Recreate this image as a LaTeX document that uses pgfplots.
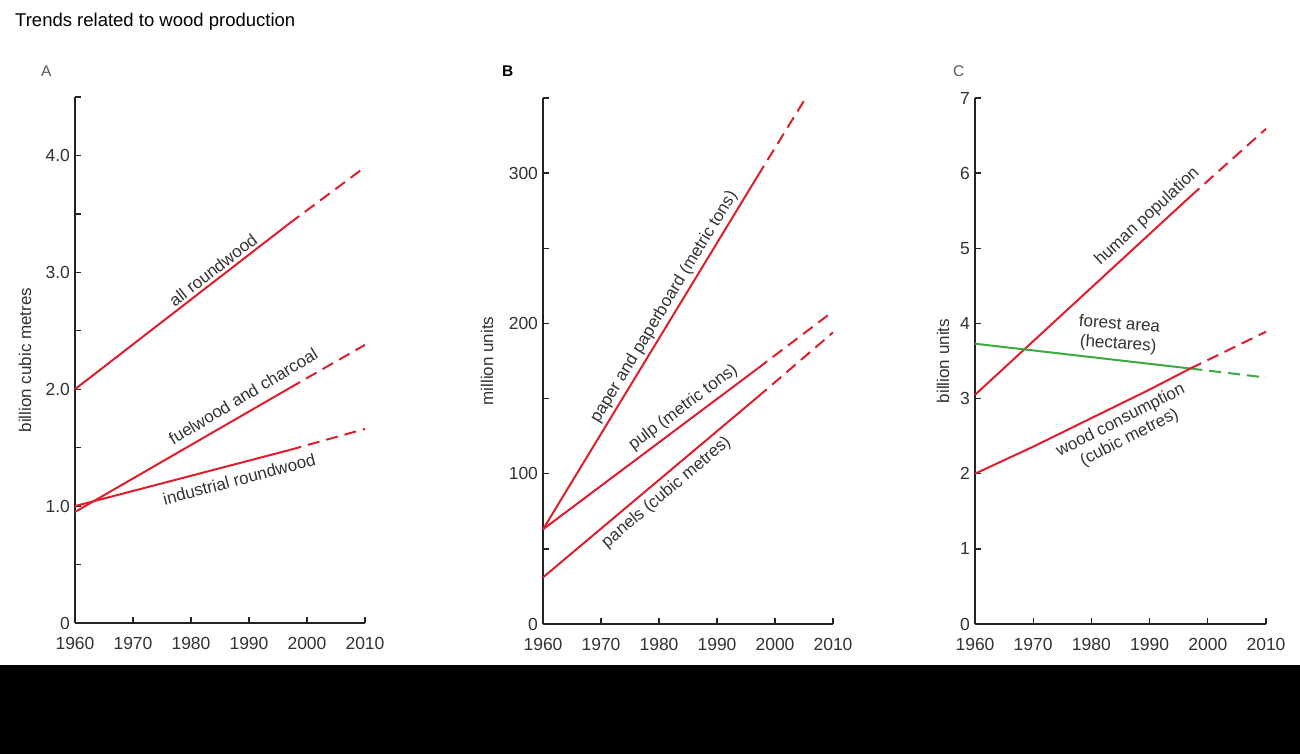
\documentclass[border=0pt]{standalone}
\usepackage{fontspec}
\setmainfont{Liberation Sans}
\usepackage{pgfplots}
\pgfplotsset{compat=1.18}
\definecolor{cred}{RGB}{222,30,42}
\definecolor{cgreen}{RGB}{60,170,60}
\definecolor{ctext}{RGB}{50,50,50}
\definecolor{caxis}{RGB}{35,35,35}
\tikzset{lab/.style={font=\fontsize{17}{19.5}\selectfont, text=ctext, inner sep=0pt}}
\pgfplotsset{
 panel/.style={
  scale only axis, width=290pt, height=526pt, anchor=south west,
  axis lines=left, axis line style={-, draw=caxis, line width=1.6pt},
  tick align=inside, major tick length=6pt, tick style={draw=caxis, line width=1.3pt},
  xmin=1960, xmax=2010, xtick={1960,1970,1980,1990,2000,2010},
  xticklabels={1960,1970,1980,1990,2000,2010},
  ticklabel style={font=\fontsize{17.5}{17.5}\selectfont, text=ctext},
  xticklabel style={yshift=-11pt},
  yticklabel style={xshift=-1.5pt},
  label style={font=\fontsize{17}{17}\selectfont, text=ctext},
  /pgf/number format/assume math mode=true,
  clip=false,
 },
 sol/.style={cred, line width=2pt},
 das/.style={cred, line width=2pt, dash pattern=on 12pt off 7pt},
}
\begin{document}
\begin{tikzpicture}
\path[use as bounding box] (0pt,0pt) rectangle (1300pt,754pt);
\fill[black] (0pt,0pt) rectangle (1300pt,89pt);
\node[anchor=base west, font=\fontsize{18.5}{18.5}\selectfont, text=black, inner sep=0pt] at (15pt,727pt) {Trends related to wood production};
\node[anchor=base west, font=\fontsize{15.5}{15.5}\selectfont, text=ctext!80, inner sep=0pt] at (41pt,677pt) {A};
\node[anchor=base west, font=\fontsize{15.5}{15.5}\selectfont\bfseries, text=black, inner sep=0pt] at (502pt,677pt) {B};
\node[anchor=base west, font=\fontsize{15.5}{15.5}\selectfont, text=ctext!80, inner sep=0pt] at (953pt,677pt) {C};

% Panel A
\begin{axis}[panel, at={(75pt,131pt)},
  ymin=0, ymax=4.5, ytick={0,0.5,1,1.5,2,2.5,3,3.5,4,4.5},
  yticklabels={0,,1.0,,2.0,,3.0,,4.0,},
  ylabel={billion cubic metres},
  ylabel style={at={(axis description cs:-0.172,0.5)}, anchor=center}]
\addplot[sol] coordinates {(1960,2.00) (1997,3.42)};
\addplot[das] coordinates {(1997,3.42) (2010,3.90)};
\addplot[sol] coordinates {(1960,0.95) (1997,2.01)};
\addplot[das] coordinates {(1997,2.01) (2010,2.38)};
\addplot[sol] coordinates {(1960,1.00) (1997,1.48)};
\addplot[das] coordinates {(1997,1.48) (2010,1.66)};
\node[lab, rotate=37.8] at (axis cs:1983.8,3.02) {all roundwood};
\node[lab, rotate=31] at (axis cs:1989.0,1.94) {fuelwood and charcoal};
\node[lab, rotate=14.8] at (axis cs:1988.3,1.23) {industrial roundwood};
\end{axis}

% Panel B
\begin{axis}[panel, at={(543pt,130pt)},
  ymin=0, ymax=350, ytick={0,50,100,150,200,250,300,350},
  yticklabels={0,,100,,200,,300,},
  ylabel={million units},
  ylabel style={at={(axis description cs:-0.193,0.5)}, anchor=center}]
\addplot[sol] coordinates {(1960,63) (1997,298)};
\addplot[das] coordinates {(1997,298) (2005.3,350)};
\addplot[sol] coordinates {(1960,63) (1997,170)};
\addplot[das] coordinates {(1997,170) (2010,208)};
\addplot[sol] coordinates {(1960,31) (1997,151)};
\addplot[das] coordinates {(1997,151) (2010,194)};
\node[lab, rotate=58.8] at (axis cs:1980.9,210.9) {paper and paperboard (metric tons)};
\node[lab, rotate=37] at (axis cs:1984.2,144) {pulp (metric tons)};
\node[lab, rotate=40] at (axis cs:1981.3,87.5) {panels (cubic metres)};
\end{axis}

% Panel C
\begin{axis}[panel, at={(975pt,130pt)}, width=291pt,
  ymin=0, ymax=7, ytick={0,1,2,3,4,5,6,7},
  yticklabels={0,1,2,3,4,5,6,7},
  ylabel={billion units},
  ylabel style={at={(axis description cs:-0.11,0.5)}, anchor=center}]
\addplot[sol] coordinates {(1960,3.05) (1997,5.69)};
\addplot[das] coordinates {(1997,5.69) (2010,6.59)};
\addplot[cgreen, line width=2pt] coordinates {(1960,3.73) (1997,3.40)};
\addplot[cgreen, line width=2pt, dash pattern=on 12pt off 7pt] coordinates {(1997,3.40) (2010,3.28)};
\addplot[sol] coordinates {(1960,2.00) (1970,2.36) (1980,2.74) (1990,3.12) (1997,3.40)};
\addplot[das] coordinates {(1997,3.40) (2010,3.89)};
\node[lab, rotate=42.8] at (axis cs:1989.6,5.42) {human population};
\node[lab, rotate=-4, align=center] at (axis cs:1984.7,3.85) {forest area\\(hectares)};
\node[lab, rotate=27, align=center] at (axis cs:1985.8,2.59) {wood consumption\\(cubic metres)};
\end{axis}
\end{tikzpicture}
\end{document}
